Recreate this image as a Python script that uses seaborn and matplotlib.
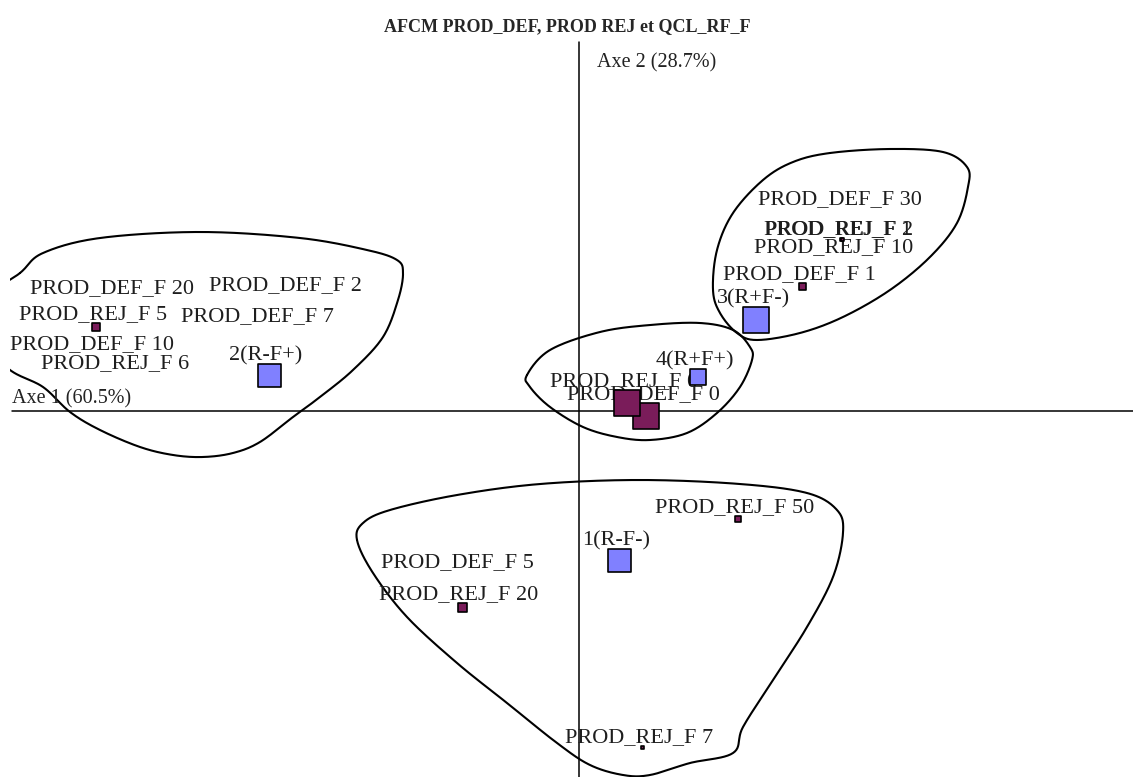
import numpy as np
import pandas as pd
import matplotlib
matplotlib.use("Agg")
import matplotlib.pyplot as plt
import seaborn as sns

# %%
# Coordonnées factorielles (axe 1, axe 2)
classes = ["1(R-F-)", "2(R-F+)", "3(R+F-)", "4(R+F+)"]
classes_x = [0.40, -3.10, 1.77, 1.19]
classes_y = [-1.49, 0.36, 0.91, 0.34]
classes_poids = [23, 23, 26, 16]

modalites = ["PROD_DEF_F 0", "PROD_REJ_F 0", "PROD_DEF_F 20", "PROD_DEF_F 2",
             "PROD_DEF_F 7", "PROD_REJ_F 5", "PROD_DEF_F 10", "PROD_REJ_F 6",
             "PROD_DEF_F 30", "PROD_REJ_F 1", "PROD_REJ_F 2", "PROD_REJ_F 10",
             "PROD_DEF_F 1", "PROD_REJ_F 50", "PROD_DEF_F 5", "PROD_REJ_F 20",
             "PROD_REJ_F 7"]
modalites_x = [0.67, 0.48, -4.64, -2.91, -3.19, -4.83, -4.84, -4.61,
               2.64, 2.62, 2.63, 2.58, 2.23, 1.59, -1.19, -1.17, 0.63]
modalites_y = [-0.05, 0.08, 1.14, 1.17, 0.86, 0.84, 0.58, 0.39,
               2.03, 1.72, 1.72, 1.55, 1.25, -1.08, -1.60, -1.96, -3.36]
modalites_poids = [26, 26, 0, 0, 0, 8, 0, 0, 0, 3, 3, 0, 7, 6, 0, 9, 3]

# Contours tracés à main levée autour des groupes (points de contrôle)
groupe_gauche_x = [-5.59, -5.36, -4.79, -3.79, -2.79, -2.12, -1.82, -1.76, -1.81, -1.96,
                   -2.26, -2.59, -2.86, -3.19, -3.46, -3.76, -4.06, -4.39, -4.79, -5.09,
                   -5.36, -5.69, -5.99, -5.94]
groupe_gauche_y = [1.38, 1.58, 1.73, 1.79, 1.73, 1.61, 1.51, 1.38, 1.11, 0.74,
                   0.41, 0.14, -0.06, -0.31, -0.42, -0.46, -0.44, -0.36, -0.19, -0.01,
                   0.24, 0.41, 0.71, 1.11]
groupe_haut_x = [2.51, 3.11, 3.64, 3.88, 3.89, 3.78, 3.51, 3.11, 2.64, 2.21,
                 1.78, 1.58, 1.41, 1.34, 1.38, 1.54, 1.84, 2.14]
groupe_haut_y = [2.58, 2.62, 2.59, 2.44, 2.24, 1.88, 1.54, 1.21, 0.94, 0.78,
                 0.71, 0.78, 0.98, 1.21, 1.61, 1.98, 2.31, 2.49]
groupe_centre_x = [-0.52, -0.29, 0.21, 0.71, 1.21, 1.54, 1.71, 1.73, 1.61, 1.38,
                   1.08, 0.71, 0.38, 0.04, -0.29, -0.49]
groupe_centre_y = [0.36, 0.61, 0.79, 0.86, 0.88, 0.81, 0.64, 0.51, 0.24, -0.02,
                   -0.22, -0.29, -0.26, -0.16, 0.04, 0.24]
groupe_bas_x = [-2.22, -2.16, -1.89, -1.22, -0.39, 0.61, 1.61, 2.28, 2.58, 2.64,
                2.54, 2.28, 1.94, 1.64, 1.54, 1.11, 0.71, 0.44, 0.11, -0.22,
                -0.72, -1.22, -1.72, -2.06]
groupe_bas_y = [-1.29, -1.12, -0.99, -0.84, -0.73, -0.69, -0.73, -0.82, -0.99, -1.22,
                -1.66, -2.16, -2.69, -3.16, -3.42, -3.52, -3.64, -3.64, -3.54, -3.32,
                -2.92, -2.52, -2.06, -1.62]

# %%
df = pd.DataFrame({
    "label": classes + modalites,
    "x": classes_x + modalites_x,
    "y": classes_y + modalites_y,
    "poids": classes_poids + modalites_poids,
    "type": ["classe"] * len(classes) + ["modalite"] * len(modalites),
})
df["aire"] = (df["poids"] * 0.72) ** 2


def contour_lisse(xs, ys, n=24):
    # Catmull-Rom fermé pour imiter le trait à main levée
    p = np.column_stack([xs, ys])
    k = len(p)
    t = np.linspace(0, 1, n, endpoint=False)[:, None]
    out = []
    for i in range(k):
        p0, p1, p2, p3 = p[i - 1], p[i], p[(i + 1) % k], p[(i + 2) % k]
        out.append(0.5 * (2 * p1 + (-p0 + p2) * t + (2 * p0 - 5 * p1 + 4 * p2 - p3) * t ** 2
                          + (-p0 + 3 * p1 - 3 * p2 + p3) * t ** 3))
    out = np.vstack(out)
    return np.vstack([out, out[:1]])


sns.set_style("white")
plt.rcParams['font.family'] = ['Liberation Serif', 'DejaVu Serif']

fig = plt.figure(figsize=(11.33, 7.77), dpi=100)
ax = fig.add_axes([10 / 1133, 0, 1123 / 1133, 1])

# Axes factoriels
ax.plot([-5.67, 5.54], [0, 0], color="black", lw=1.1, zorder=1)
ax.plot([0, 0], [-3.66, 3.69], color="black", lw=1.1, zorder=1)
ax.text(-5.67, 0.12, "Axe 1 (60.5%)", fontsize=14.5, color="#222222", va="center", ha="left")
ax.text(0.18, 3.48, "Axe 2 (28.7%)", fontsize=14.5, color="#222222", va="center", ha="left")

# Contours des groupes
for gx, gy in [(groupe_gauche_x, groupe_gauche_y), (groupe_haut_x, groupe_haut_y),
               (groupe_centre_x, groupe_centre_y), (groupe_bas_x, groupe_bas_y)]:
    c = contour_lisse(gx, gy)
    ax.plot(c[:, 0], c[:, 1], color="black", lw=1.5, zorder=2)

# Étiquettes
for _, r in df.iterrows():
    dy = r["poids"] / 2 + 8
    ax.annotate(r["label"], (r["x"], r["y"]), xytext=(-3, dy), textcoords="offset pixels",
                ha="center", va="center", fontsize=16, color="#1e1e1e", zorder=2)

# Points (carrés proportionnels)
visibles = df[df["poids"] > 0]
amax = df["aire"].max()
sns.scatterplot(data=visibles, x="x", y="y", hue="type", size="aire",
                sizes=(0, amax), size_norm=(0, amax),
                palette={"classe": "#8080ff", "modalite": "#7a1c5a"},
                marker="s", edgecolor="black", linewidth=1.2, legend=False, ax=ax, zorder=3)
ax.set_xlim(-5.69, 5.54)
ax.set_ylim(-3.66, 4.11)
ax.axis("off")

fig.suptitle("AFCM PROD_DEF, PROD REJ et QCL_RF_F", x=567 / 1133, y=1 - 27 / 777,
             va="center", fontsize=13, fontweight="bold")

fig.savefig("out.png", dpi=100)
